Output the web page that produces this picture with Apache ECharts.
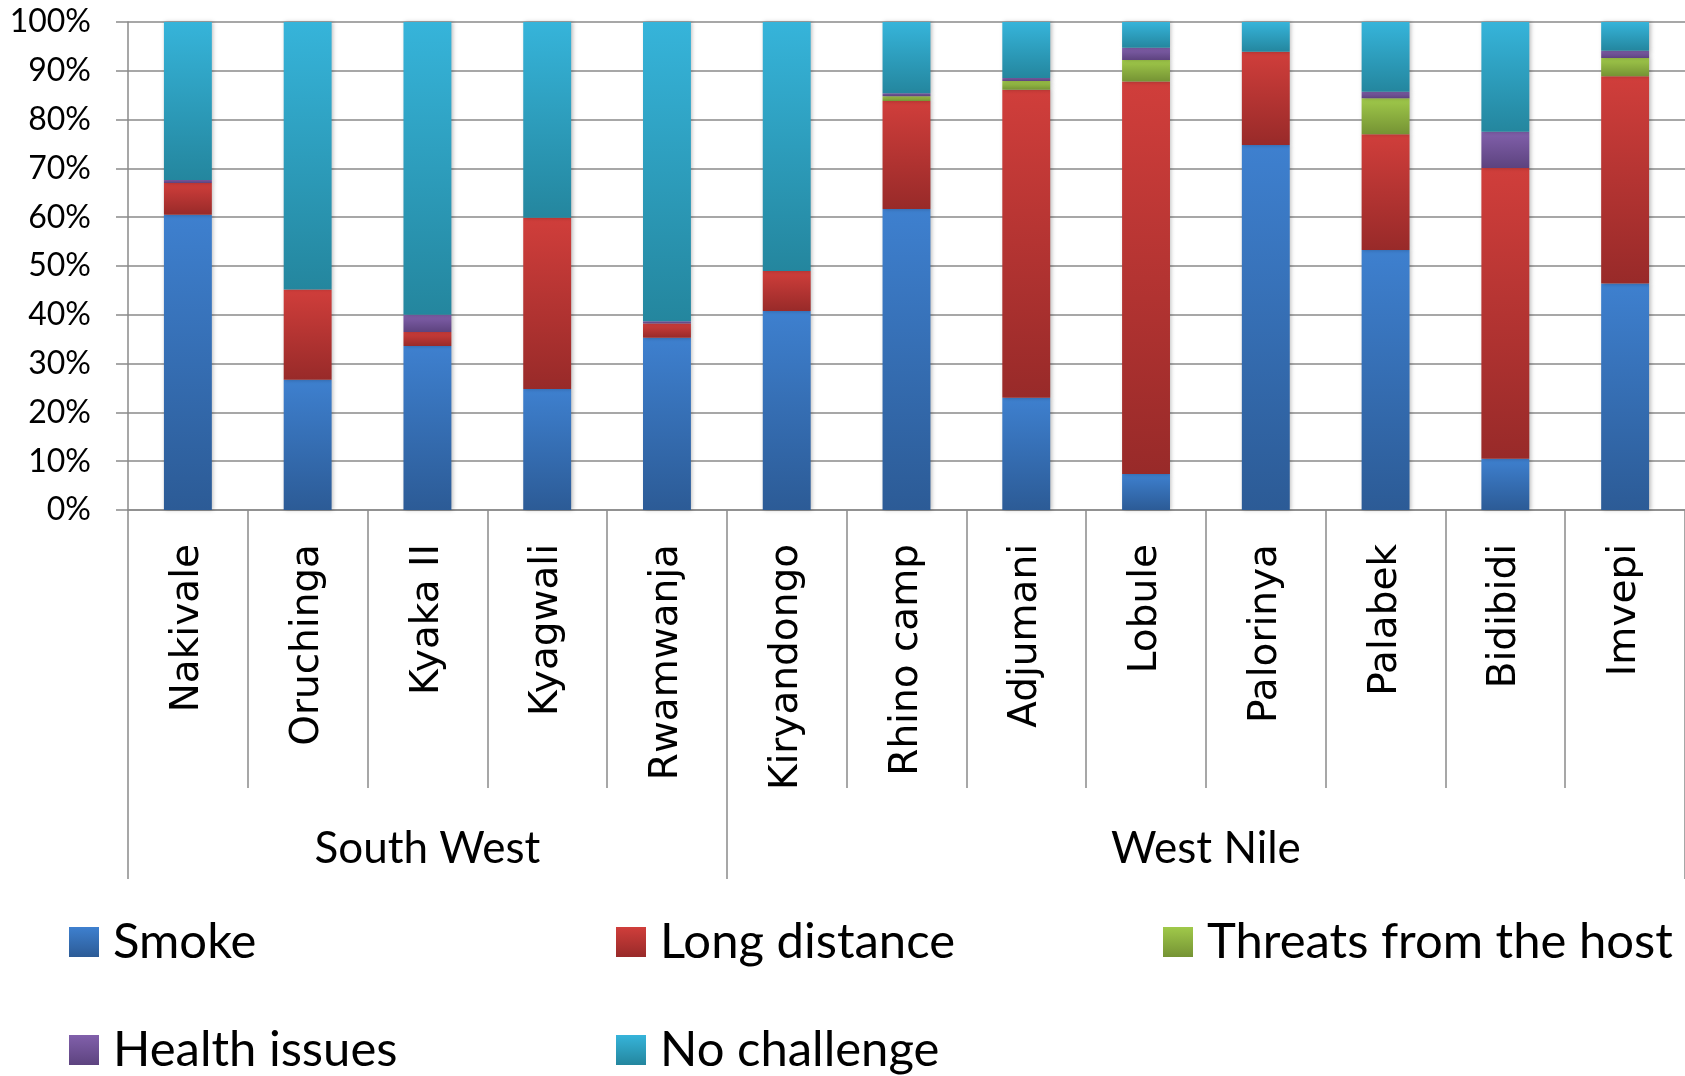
<!DOCTYPE html>
<html>
<head>
<meta charset="utf-8">
<title>Cooking challenges by settlement</title>
<script src="https://cdn.jsdelivr.net/npm/echarts@6/dist/echarts.min.js"></script>
<style>
  html, body { margin: 0; padding: 0; background: #ffffff; }
  #chart { width: 1685px; height: 1076px; }
</style>
</head>
<body>
<div id="chart"></div>
<script>
// Settlements, grouped by region
const settlements = ['Nakivale', 'Oruchinga', 'Kyaka II', 'Kyagwali', 'Rwamwanja',
  'Kiryandongo', 'Rhino camp', 'Adjumani', 'Lobule', 'Palorinya', 'Palabek', 'Bidibidi', 'Imvepi'];
const regions = ['South West', 'West Nile'];
const regionSizes = [5, 8];

// Share of respondents (%) per challenge
const smoke       = [60.5, 26.7, 33.6, 24.8, 35.3, 40.8, 61.7, 23.0, 7.4, 74.8, 53.3, 10.5, 46.4];
const longDist    = [6.5, 18.5, 2.9, 35.1, 2.9, 8.2, 22.1, 63.1, 80.4, 19.1, 23.7, 59.6, 42.5];
const threats     = [0, 0, 0, 0, 0, 0, 1.0, 1.8, 4.4, 0, 7.4, 0, 3.7];
const health      = [0.6, 0, 3.5, 0, 0.5, 0, 0.6, 0.6, 2.5, 0, 1.3, 7.4, 1.5];
const noChallenge = [32.4, 54.8, 60.0, 40.1, 61.3, 51.0, 14.6, 11.5, 5.3, 6.1, 14.3, 22.5, 5.9];

const yTicks = [0, 10, 20, 30, 40, 50, 60, 70, 80, 90, 100];

const grad = (top, bottom) => new echarts.graphic.LinearGradient(0, 0, 0, 1, [
  { offset: 0, color: top }, { offset: 1, color: bottom }
]);

const seriesDefs = [
  { name: 'Smoke', data: smoke, color: grad('#3e80cf', '#2c5b96') },
  { name: 'Long distance', data: longDist, color: grad('#d03e3b', '#982a29') },
  { name: 'Threats from the host', data: threats, color: grad('#a0c94a', '#759334') },
  { name: 'Health issues', data: health, color: grad('#8160ab', '#5d437f') },
  { name: 'No challenge', data: noChallenge, color: grad('#36b4da', '#24869e') }
];

// Region boundaries on a 0..n scale under the category axis
const regionEdges = [0];
regionSizes.forEach(s => regionEdges.push(regionEdges[regionEdges.length - 1] + s));
const regionCenters = regionSizes.map((s, i) => regionEdges[i] + s / 2);

const gray = '#8a8a8a';
const calibriLike = 'Lato, "Open Sans", sans-serif';

const legendSlots = [
  { left: 69, top: 913 }, { left: 616, top: 913 }, { left: 1163, top: 913 },
  { left: 69, top: 1021 }, { left: 616, top: 1021 }
];

const chart = echarts.init(document.getElementById('chart'), null, { renderer: 'canvas' });

chart.setOption({
  backgroundColor: '#ffffff',
  animation: false,
  grid: { left: 128, right: 0, top: 22, bottom: 566, containLabel: false },
  legend: seriesDefs.map((s, i) => ({
    data: [s.name],
    left: legendSlots[i].left,
    top: legendSlots[i].top,
    padding: 0,
    icon: 'rect',
    itemWidth: 30,
    itemHeight: 30,
    selectedMode: false,
    textStyle: {
      fontFamily: calibriLike,
      fontSize: 49,
      color: '#000000',
      lineHeight: 58,
      padding: [0, 0, 0, 9]
    }
  })),
  xAxis: [
    {
      type: 'category',
      data: settlements,
      axisLine: { show: true, lineStyle: { color: gray, width: 1.5 } },
      axisTick: { show: true, interval: 0, length: 278, lineStyle: { color: gray, width: 1.5 } },
      axisLabel: {
        interval: 0,
        rotate: 90,
        margin: 34,
        padding: [10, 0, 0, 0],
        fontFamily: '"DejaVu Sans", sans-serif',
        fontSize: 39,
        color: '#000000'
      },
      splitLine: { show: false }
    },
    {
      type: 'value',
      min: 0,
      max: settlements.length,
      position: 'bottom',
      axisLine: { show: false },
      splitLine: { show: false },
      axisTick: {
        show: true,
        customValues: regionEdges,
        length: 369,
        lineStyle: { color: gray, width: 1.5 }
      },
      axisLabel: {
        customValues: regionCenters,
        formatter: v => regions[regionCenters.indexOf(v)],
        margin: 317,
        fontFamily: calibriLike,
        fontSize: 44,
        color: '#000000'
      }
    }
  ],
  yAxis: {
    type: 'value',
    min: 0,
    max: 100,
    interval: 10,
    axisLine: { show: true, lineStyle: { color: gray, width: 1.5 } },
    axisTick: { show: true, length: 12, lineStyle: { color: gray, width: 1.5 } },
    axisLabel: {
      formatter: v => yTicks.includes(v) ? v + '%' : '',
      margin: 37,
      fontFamily: calibriLike,
      fontSize: 32,
      color: '#000000'
    },
    splitLine: { show: true, lineStyle: { color: gray, width: 1.5 } }
  },
  series: seriesDefs.map(s => ({
    name: s.name,
    type: 'bar',
    stack: 'total',
    xAxisIndex: 0,
    barWidth: '40%',
    data: s.data,
    itemStyle: {
      color: s.color,
      shadowColor: 'rgba(0,0,0,0.25)',
      shadowBlur: 4,
      shadowOffsetX: 1.5
    },
    emphasis: { disabled: true }
  }))
});
</script>
</body>
</html>
